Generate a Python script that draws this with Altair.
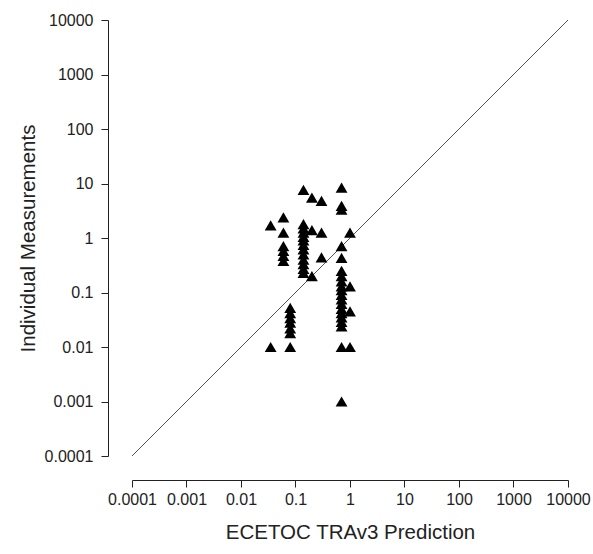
import altair as alt
import pandas as pd

# ECETOC TRAv3 prediction (x) vs individual measurements (y)
pred_035 = [1.7, 0.01]
pred_06 = [2.4, 1.25, 0.71, 0.58, 0.47, 0.38]
pred_08 = [0.052, 0.042, 0.034, 0.028, 0.022, 0.018, 0.01]
pred_14 = [7.6, 1.8, 1.5, 1.25, 1.05, 0.9, 0.75, 0.62, 0.5, 0.4, 0.33, 0.27, 0.23]
pred_2 = [5.5, 1.4, 0.2]
pred_3 = [4.8, 1.25, 0.44]
pred_7 = [8.4, 3.9, 3.3, 0.71, 0.43, 0.25, 0.2, 0.16, 0.13, 0.11, 0.09, 0.075,
          0.062, 0.05, 0.042, 0.035, 0.029, 0.024, 0.01, 0.001]
pred_1 = [1.25, 0.13, 0.045, 0.01]

groups = {0.035: pred_035, 0.06: pred_06, 0.08: pred_08, 0.14: pred_14,
          0.2: pred_2, 0.3: pred_3, 0.7: pred_7, 1.0: pred_1}

tick_values = [0.0001, 0.001, 0.01, 0.1, 1, 10, 100, 1000, 10000]
line_x = [0.0001, 10000]

rows = []
for px, ys in groups.items():
    for v in ys:
        rows.append({"pred": px, "meas": v})
pts = pd.DataFrame(rows)
line_df = pd.DataFrame({"pred": line_x, "meas": line_x})

font = "Liberation Sans"
xscale = alt.Scale(type="log", domain=[0.0001, 10000], nice=False)
yscale = alt.Scale(type="log", domain=[0.0001, 10000], nice=False)

xaxis = alt.Axis(values=tick_values, format="~g", offset=24, grid=False,
                 domainColor="#222", tickColor="#222", tickSize=7,
                 labelFontSize=16, labelColor="#222", labelFont=font,
                 labelPadding=4, labelOverlap=False, labelFlush=False,
                 title="ECETOC TRAv3 Prediction", titleFontSize=20.5,
                 titleFontWeight="normal", titleFont=font, titleColor="#222",
                 titlePadding=15)
yaxis = alt.Axis(values=tick_values, format="~g", offset=24, grid=False,
                 domainColor="#222", tickColor="#222", tickSize=7,
                 labelFontSize=16, labelColor="#222", labelFont=font,
                 labelPadding=8, labelOverlap=False, labelFlush=False,
                 title="Individual Measurements", titleFontSize=20.5,
                 titleFontWeight="normal", titleFont=font, titleColor="#222",
                 titlePadding=6)

line = alt.Chart(line_df).mark_line(color="#555", strokeWidth=1).encode(
    x=alt.X("pred:Q", scale=xscale, axis=xaxis),
    y=alt.Y("meas:Q", scale=yscale, axis=yaxis),
)
points = alt.Chart(pts).mark_point(shape="triangle-up", filled=True,
                                   color="black", size=140, opacity=1).encode(
    x=alt.X("pred:Q", scale=xscale),
    y=alt.Y("meas:Q", scale=yscale),
)

chart = (line + points).properties(
    width=436, height=436,
    background="white",
    autosize=alt.AutoSizeParams(type="none"),
    padding={"left": 132, "top": 20, "right": 25, "bottom": 98},
).configure_view(strokeWidth=0, stroke=None)

chart.save("out.html", embed_options={"renderer": "svg", "actions": False})
